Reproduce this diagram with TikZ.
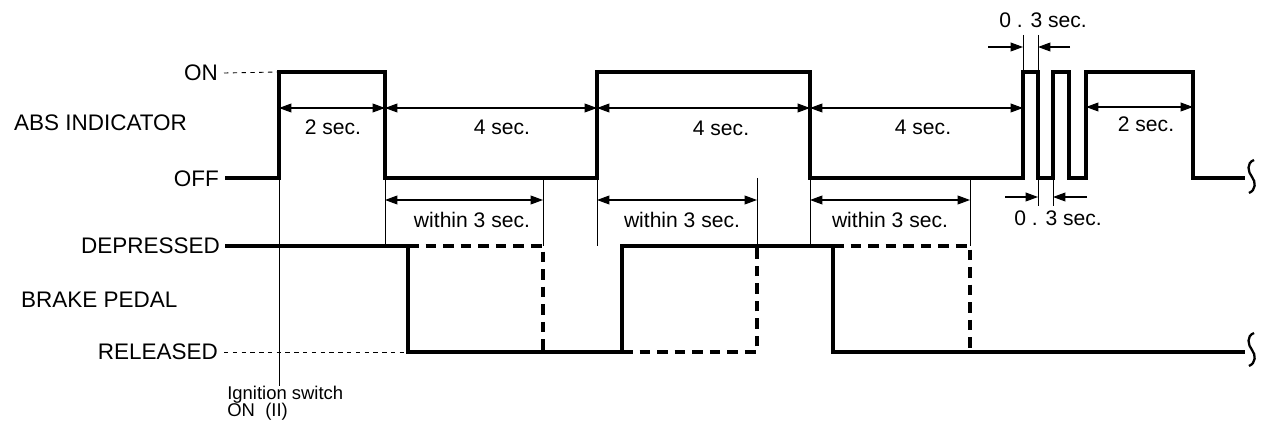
\documentclass[tikz,border=0pt]{standalone}
\usepackage{fontspec}
\setmainfont{Liberation Sans}
\usetikzlibrary{arrows.meta}
\tikzset{
    signal/.style={line width=2pt, line join=miter},
    ghost/.style={line width=2pt, dash pattern=on 6pt off 4pt},
    level/.style={line width=0.5pt, dash pattern=on 2.5pt off 2.5pt},
    guide/.style={line width=0.5pt},
    dim/.style={line width=0.6pt, {Triangle[length=7pt,width=5pt]}-{Triangle[length=7pt,width=5pt]}},
    tip/.style={line width=0.6pt, -{Triangle[length=7pt,width=5pt]}},
    lbl/.style={font=\fontsize{12}{14}\selectfont, inner sep=1pt},
    big/.style={font=\fontsize{12.8}{14}\selectfont, inner sep=1pt},
    small/.style={font=\fontsize{10.5}{11}\selectfont, inner sep=1pt},
    tail/.pic={\draw[line width=1.3pt] (9,-17) .. controls (1,-14) and (3,-5) .. (7,0)
        .. controls (11,5) and (11,13) .. (4,16);},
}

\begin{document}
\begin{tikzpicture}[x=0.02cm, y=-0.02cm]

\useasboundingbox (0,0) rectangle (1271,435);

% Row labels
\node[big, anchor=east] (lon) at (220,73) {ON};
\node[big, anchor=east] (loff) at (221,179) {OFF};
\node[big, anchor=west] (labs) at (12,123) {ABS INDICATOR};
\node[big, anchor=east] (ldep) at (222,246) {DEPRESSED};
\node[big, anchor=west] (lbrake) at (19,300) {BRAKE PEDAL};
\node[big, anchor=east] (lrel) at (220,352) {RELEASED};
\node[small, anchor=north west, align=left, inner sep=0pt] (lign) at (227,386)
    {Ignition switch\\[-1.5pt]ON\ \ (II)};

% Level markers
\draw[level] (lon.east) ++(4,0) -- (279,72);
\draw[level] (lrel.east) ++(4,0) -- (408,352);

% ABS indicator signal
\draw[signal] (225,178) -- (279,178) -- (279,72) -- (385,72) -- (385,178) -- (597,178)
    -- (597,72) -- (810,72) -- (810,178) -- (1023,178) -- (1023,72) -- (1038,72)
    -- (1038,178) -- (1053,178) -- (1053,72) -- (1069,72) -- (1069,178) -- (1086,178)
    -- (1086,72) -- (1193,72) -- (1193,178) -- (1245,178);
\pic at (1245,177) {tail};

% Brake pedal signal
\draw[signal] (225,246) -- (408,246) -- (408,352) -- (622,352) -- (622,246) -- (833,246)
    -- (833,352) -- (1245,352);
\pic at (1245,350) {tail};
\draw[ghost] (408,246) -- (543,246) -- (543,352);
\draw[ghost] (622,352) -- (757,352) -- (757,246);
\draw[ghost] (833,246) -- (970,246) -- (970,352);

% Guide lines
\draw[guide] (279,178) -- (279,386);
\foreach \gx in {385,543,597,757,810,970}
    \draw[guide] (\gx,178) -- (\gx,246);
\draw[guide] (1023,35) -- (1023,72);
\draw[guide] (1038,35) -- (1038,72);
\draw[guide] (1038,178) -- (1038,206);
\draw[guide] (1053,178) -- (1053,206);

% Durations
\draw[dim] (279,108) -- (385,108);
\draw[dim] (385,108) -- (597,108);
\draw[dim] (597,108) -- (810,108);
\draw[dim] (810,108) -- (1023,108);
\draw[dim] (1086,107) -- (1193,107);
\node[lbl] (d1) at (333,127) {2 sec.};
\node[lbl] (d2) at (502,127) {4 sec.};
\node[lbl] (d3) at (721,128) {4 sec.};
\node[lbl] (d4) at (923,127) {4 sec.};
\node[lbl] (d5) at (1146,124) {2 sec.};

\draw[dim] (385,200) -- (543,200);
\draw[dim] (597,200) -- (757,200);
\draw[dim] (810,200) -- (970,200);
\node[lbl] (w1) at (472,220) {within 3 sec.};
\node[lbl] (w2) at (682,220) {within 3 sec.};
\node[lbl] (w3) at (890,220) {within 3 sec.};

% Blink period
\draw[tip] (988,47) -- (1023,47);
\draw[tip] (1070,47) -- (1038,47);
\node[lbl] (b1) at (1043,20) {0 . 3 sec.};
\draw[tip] (1005,197) -- (1038,197);
\draw[tip] (1087,197) -- (1053,197);
\node[lbl] (b2) at (1058,218) {0 . 3 sec.};

\end{tikzpicture}
\end{document}
